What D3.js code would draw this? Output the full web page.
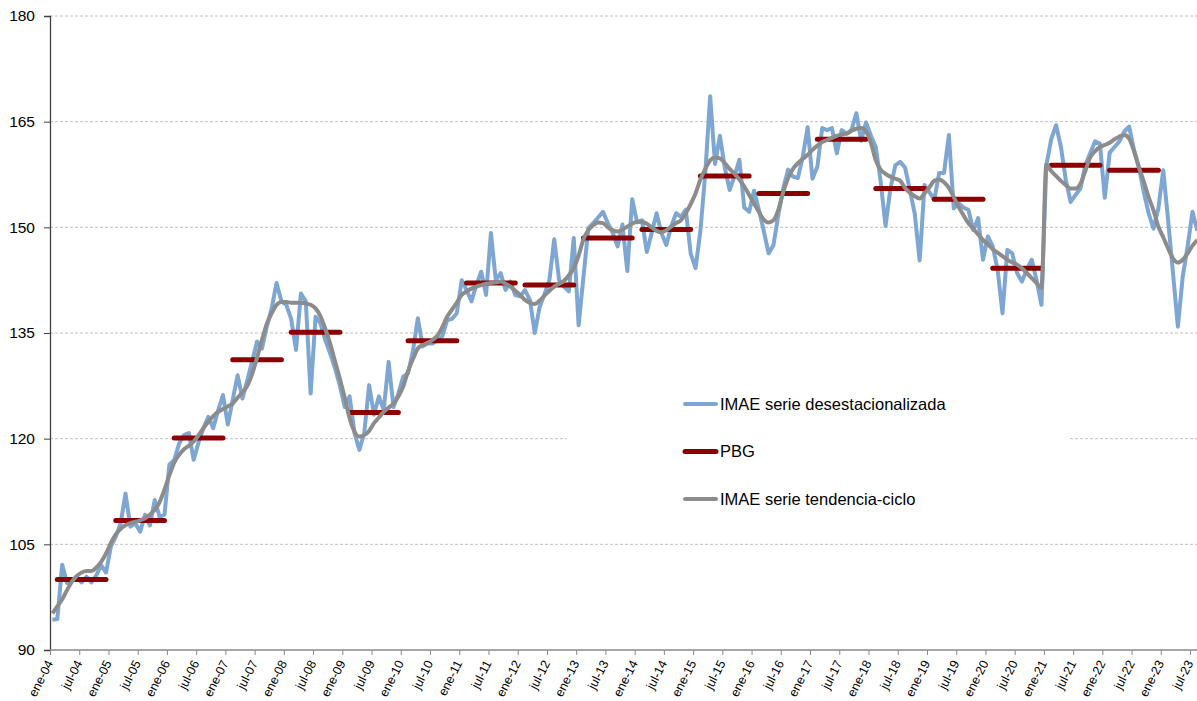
<!DOCTYPE html>
<html>
<head>
<meta charset="utf-8">
<script src="https://cdn.jsdelivr.net/npm/d3@7"></script>
<style>
  body { margin: 0; background: #fff; }
  svg { display: block; font-family: "Liberation Sans", Arial, sans-serif; }
</style>
</head>
<body>
<div id="chart"></div>
<script>
// IMAE: serie desestacionalizada, tendencia-ciclo y PBG anual

const startYear = 2004;

// monthly, ene-04 .. ago-23
const imaeDesest = [
  94.3, 94.4, 102.1, 99.5, 100.0, 100.2, 99.6, 100.4, 99.6, 100.6, 102.0, 101.0,
  104.7, 106.1, 108.0, 112.2, 107.5, 108.0, 106.8, 109.2, 107.7, 111.3, 108.9, 109.2,
  116.3, 117.0, 119.3, 120.5, 120.8, 117.0, 119.5, 121.5, 123.1, 121.5, 124.0, 126.2,
  122.0, 125.5, 129.0, 125.7, 128.3, 131.0, 133.8, 132.8, 135.9, 138.5, 142.1, 139.5,
  139.0, 137.0, 132.6, 140.6, 139.5, 126.4, 137.3, 136.4, 134.0, 132.1, 130.0, 127.5,
  124.5, 126.0, 120.8, 118.4, 120.8, 127.6, 123.4, 126.0, 124.1, 130.9, 124.5, 126.4,
  128.8, 129.3, 132.5, 137.1, 133.1, 133.5, 133.5, 134.0, 134.5, 136.8, 137.0, 137.8,
  142.5, 141.1, 139.5, 141.8, 143.7, 140.4, 149.2, 142.5, 143.5, 141.1, 142.3, 140.4,
  140.2, 141.1, 139.7, 135.0, 138.7, 140.5, 142.5, 148.3, 142.5, 141.6, 140.9, 148.5,
  136.1, 143.0, 149.9, 150.6, 151.4, 152.2, 150.6, 149.2, 147.3, 150.4, 143.8, 154.0,
  150.7, 151.0, 146.5, 149.2, 152.0, 149.2, 147.5, 150.1, 152.0, 151.5, 152.5, 146.3,
  144.2, 149.5, 157.7, 168.6, 159.0, 163.0, 158.5, 155.3, 157.3, 159.6, 152.8, 152.2,
  155.2, 152.5, 149.5, 146.3, 147.5, 151.8, 155.5, 158.2, 157.2, 157.0, 160.0, 164.2,
  156.9, 158.6, 164.1, 163.8, 164.1, 160.5, 163.8, 163.3, 163.8, 166.2, 162.3, 164.9,
  163.0, 161.4, 156.5, 150.2, 155.5, 158.8, 159.3, 158.5, 155.3, 151.9, 145.3, 156.0,
  155.0, 153.9, 157.7, 157.7, 163.1, 152.7, 153.4, 152.8, 152.5, 149.6, 151.3, 145.4,
  148.7, 147.3, 144.0, 137.8, 146.8, 146.3, 143.5, 142.3, 144.0, 145.4, 142.5, 139.0,
  158.8, 162.5, 164.5, 161.4, 156.7, 153.6, 154.6, 155.5, 158.8, 160.5, 162.2, 161.9,
  154.2, 160.6, 161.4, 162.2, 163.6, 164.3, 161.0, 158.6, 155.0, 152.0, 149.8, 152.7,
  158.1, 151.0, 143.5, 135.9, 143.0, 147.3, 152.2, 149.5
];

const imaeTendencia = [
  95.2, 96.2, 97.2, 98.5, 99.7, 100.5, 101.0, 101.2, 101.2, 101.7, 102.5, 103.7,
  105.2, 106.4, 107.2, 107.7, 108.0, 108.2, 108.4, 108.7, 109.2, 109.9, 111.0, 112.8,
  114.8, 116.6, 117.7, 118.5, 119.0, 119.6, 120.5, 121.5, 122.4, 123.2, 123.8, 124.2,
  124.6, 125.0, 125.8, 126.6, 127.5, 129.2, 131.5, 134.0, 136.3, 137.8, 139.0, 139.4,
  139.4, 139.3, 139.3, 139.3, 139.2, 139.0, 138.5, 137.4, 135.6, 133.5, 131.0, 128.5,
  125.8, 122.9, 121.0, 120.3, 120.5, 121.1, 122.2, 123.0, 123.8, 124.4, 125.0, 126.0,
  127.4, 129.6, 131.3, 132.8, 133.3, 133.6, 134.0, 134.6, 135.8, 137.3, 138.3, 139.3,
  140.4, 140.9, 141.3, 141.6, 141.8, 142.0, 142.1, 142.2, 142.3, 142.0, 141.6, 141.0,
  140.4, 139.7, 139.3, 139.1, 139.6, 140.3, 141.0, 141.6, 142.0, 142.4, 143.2, 144.2,
  146.0, 148.3, 149.6, 150.3, 150.7, 150.6, 150.0, 149.6, 149.4, 149.7, 150.1, 150.5,
  150.8, 150.8, 150.5, 150.0, 149.5, 149.3, 149.6, 150.1, 150.6, 151.0, 152.0, 153.3,
  154.8, 156.8, 158.3, 159.5, 159.9, 159.8, 159.1, 158.3, 157.6, 156.8, 155.8, 154.6,
  153.4, 152.2, 151.1, 150.7, 151.0, 152.5, 155.0, 157.0, 158.3, 159.1, 159.7, 160.3,
  161.0, 161.6, 162.1, 162.4, 162.7, 163.0, 163.2, 163.3, 163.7, 164.0, 164.1, 163.6,
  162.0, 159.5, 158.2, 157.6, 157.2, 156.9, 156.6, 155.6, 154.9, 154.4, 154.1, 154.8,
  155.7, 156.6, 156.8, 156.4, 155.6, 154.3, 152.9, 151.7, 150.6, 149.8, 149.0, 148.2,
  147.6, 146.9, 146.4, 145.9, 145.4, 145.0, 144.7, 144.2, 143.5, 142.8, 142.1, 141.4,
  158.9, 158.0, 157.3, 156.6, 156.0, 155.5, 155.5, 156.2, 158.0, 159.9, 160.8, 161.4,
  161.7, 162.0, 162.5, 162.9, 163.1, 162.6, 160.8, 158.5, 156.5, 154.3, 152.4, 150.1,
  148.6, 147.0, 145.6, 145.0, 145.4, 146.3, 147.4, 148.2
];

const pbgYears = [2004, 2005, 2006, 2007, 2008, 2009, 2010, 2011, 2012, 2013,
                  2014, 2015, 2016, 2017, 2018, 2019, 2020, 2021, 2022];
const pbgValues = [100.0, 108.4, 120.1, 131.2, 135.1, 123.7, 133.9, 142.1, 141.8, 148.5,
                   149.7, 157.3, 154.8, 162.5, 155.5, 154.0, 144.2, 158.8, 158.1];

const yTicks = [90, 105, 120, 135, 150, 165, 180];
const monthNames = ['ene', 'jul'];

const seriesNames = ['IMAE serie desestacionalizada', 'PBG', 'IMAE serie tendencia-ciclo'];
const colors = { desest: '#7ea6d3', pbg: '#8b0000', tend: '#8c8c8c' };

let width = 1197;
let height = 701;
let plotLeft = 50, plotTop = 16, plotBottom = 650;
let monthW = 4.872;
let nMonths = 236;

let svg = d3.select('#chart').append('svg')
  .attr('width', width)
  .attr('height', height);

let x = d3.scaleLinear().domain([0, nMonths]).range([plotLeft, plotLeft + nMonths * monthW]);
let y = d3.scaleLinear().domain([90, 180]).range([plotBottom, plotTop]);

// gridlines
svg.append('g')
  .selectAll('line')
  .data(yTicks.filter(d => d > 90))
  .enter().append('line')
    .attr('x1', plotLeft).attr('x2', width)
    .attr('y1', d => y(d)).attr('y2', d => y(d))
    .attr('stroke', '#c0c0c0')
    .attr('stroke-width', 1)
    .attr('stroke-dasharray', '3,2');

// y axis
let yAxis = svg.append('g')
  .attr('transform', `translate(${plotLeft},0)`)
  .call(d3.axisLeft(y).tickValues(yTicks).tickSize(6).tickPadding(9));
yAxis.select('.domain').attr('stroke', '#404040').attr('stroke-width', 1.3);
yAxis.selectAll('.tick line').attr('stroke', '#404040');
yAxis.selectAll('text')
  .attr('font-size', '15.5px')
  .attr('fill', '#000')
  .attr('font-family', '"Liberation Sans", Arial, sans-serif');

// x axis
let xTicks = d3.range(0, nMonths, 6);
let xAxis = svg.append('g')
  .attr('transform', `translate(0,${plotBottom})`)
  .call(d3.axisBottom(x).tickValues(xTicks).tickSize(5).tickFormat(''));
xAxis.select('.domain').attr('stroke', '#8a8a8a').attr('stroke-width', 1.3)
  .attr('d', `M${plotLeft},0H${width}`);
xAxis.selectAll('.tick line').attr('stroke', '#8a8a8a');

svg.append('g')
  .selectAll('text')
  .data(xTicks)
  .enter().append('text')
    .attr('text-anchor', 'end')
    .attr('font-size', '12.5px')
    .attr('fill', '#000')
    .attr('transform', d => `translate(${x(d) + 3.5},${plotBottom + 13}) rotate(-63)`)
    .text(d => {
      let yy = String((startYear + Math.floor(d / 12)) % 100).padStart(2, '0');
      return `${monthNames[(d % 12) / 6]}-${yy}`;
    });

// series
let line = d3.line()
  .x((d, i) => x(i + 0.5))
  .y(d => y(d));

svg.append('path')
  .datum(imaeDesest)
  .attr('d', line)
  .attr('fill', 'none')
  .attr('stroke', colors.desest)
  .attr('stroke-width', 4)
  .attr('stroke-linejoin', 'round');

svg.append('g')
  .selectAll('line')
  .data(pbgYears)
  .enter().append('line')
    .attr('x1', d => x((d - startYear) * 12 + 1.5))
    .attr('x2', d => x((d - startYear) * 12 + 11.5))
    .attr('y1', (d, i) => y(pbgValues[i]))
    .attr('y2', (d, i) => y(pbgValues[i]))
    .attr('stroke', colors.pbg)
    .attr('stroke-width', 5)
    .attr('stroke-linecap', 'round');

svg.append('path')
  .datum(imaeTendencia)
  .attr('d', line.curve(d3.curveMonotoneX))
  .attr('fill', 'none')
  .attr('stroke', colors.tend)
  .attr('stroke-width', 4)
  .attr('stroke-linejoin', 'round');

// legend
let legend = svg.append('g');
legend.append('rect')
  .attr('x', 567).attr('y', 362)
  .attr('width', 501).attr('height', 165)
  .attr('fill', '#fff');

let legendItems = [
  { name: seriesNames[0], color: colors.desest, w: 4 },
  { name: seriesNames[1], color: colors.pbg, w: 5 },
  { name: seriesNames[2], color: colors.tend, w: 4 }
];
let items = legend.selectAll('g.item')
  .data(legendItems)
  .enter().append('g')
    .attr('transform', (d, i) => `translate(0,${404 + i * 47.5})`);
items.append('line')
  .attr('x1', 685).attr('x2', 716)
  .attr('stroke', d => d.color)
  .attr('stroke-width', d => d.w)
  .attr('stroke-linecap', 'round');
items.append('text')
  .attr('x', 720)
  .attr('dy', '0.36em')
  .attr('font-size', '16.5px')
  .attr('fill', '#000')
  .text(d => d.name);
</script>
</body>
</html>
